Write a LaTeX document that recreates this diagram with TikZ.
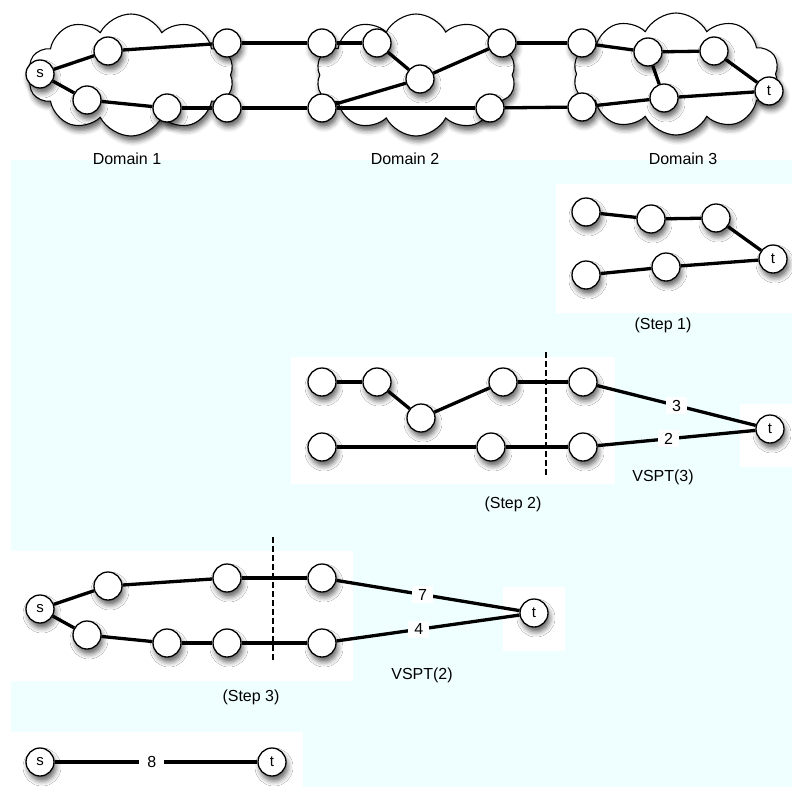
\documentclass[tikz,border=0pt]{standalone}
\usepackage{fontspec}
\setmainfont{Liberation Sans}
\usepackage{tikz}
\usetikzlibrary{shapes.symbols}
\usetikzlibrary{shadows.blur}
\definecolor{stepbg}{RGB}{239,254,255}
\tikzstyle{vtx_shadow}=[blur shadow={shadow xshift=2pt, shadow yshift=-5pt, shadow blur radius=5pt, shadow opacity=60}]
\tikzstyle{vtx}=[circle, draw=black, line width=1.3pt, fill=white, minimum size=28pt, inner sep=0pt, font=\fontsize{15}{15}\selectfont, vtx_shadow]
\tikzstyle{domcloud}=[cloud, cloud puffs=10, cloud puff arc=125, draw=black, line width=1.1pt, fill=white, minimum width=206pt, minimum height=122pt, vtx_shadow]
\tikzstyle{link}=[line width=3.3pt]
\tikzstyle{cost}=[fill=white, inner xsep=6pt, inner ysep=3pt, font=\fontsize{16}{16}\selectfont]
\tikzstyle{caption}=[font=\fontsize{16}{16}\selectfont]
\tikzstyle{cutline}=[line width=1.1pt, dash pattern=on 6pt off 3pt]

\begin{document}
\begin{tikzpicture}[x=1pt, y=-1pt]
\useasboundingbox (0,0) rectangle (792,787);
\fill[stepbg] (11,160) rectangle (792,787);
\fill[white] (556,184) rectangle (792,313);
\fill[white] (291,357) rectangle (615,484);
\fill[white] (740,404) rectangle (792,467);
\fill[white] (11,551) rectangle (353,681);
\fill[white] (503,587) rectangle (565,651);
\fill[white] (11,732) rectangle (303,787);
% domains
\node[domcloud] (dom1) at (131,75){};
\node[domcloud, minimum width=200pt] (dom2) at (416,75){};
\node[domcloud] (dom3) at (676,74){};
\node[caption] (lab1) at (127,159){Domain 1};
\node[caption] (lab2) at (405,159){Domain 2};
\node[caption] (lab3) at (683,159){Domain 3};
\node[vtx] (top0) at (40,74){s};
\node[vtx] (top1) at (108,51){};
\node[vtx] (top2) at (87,100){};
\node[vtx] (top3) at (167,108){};
\node[vtx] (top4) at (227,43){};
\node[vtx] (top5) at (227,108){};
\node[vtx] (top6) at (322,43){};
\node[vtx] (top7) at (377,43){};
\node[vtx] (top8) at (420,79){};
\node[vtx] (top9) at (502,43){};
\node[vtx] (top10) at (322,108){};
\node[vtx] (top11) at (490,108){};
\node[vtx] (top12) at (582,43){};
\node[vtx] (top13) at (648,52){};
\node[vtx] (top14) at (714,51){};
\node[vtx] (top15) at (664,98){};
\node[vtx] (top16) at (582,107){};
\node[vtx] (top17) at (769,91){t};
\draw[link](top0) -- (top1);
\draw[link](top1) -- (top4);
\draw[link](top0) -- (top2);
\draw[link](top2) -- (top3);
\draw[link](top3) -- (top5);
\draw[link](top4) -- (top6);
\draw[link](top5) -- (top10);
\draw[link](top6) -- (top7);
\draw[link](top7) -- (top8);
\draw[link](top8) -- (top9);
\draw[link](top10) -- (top8);
\draw[link](top10) -- (top11);
\draw[link](top9) -- (top12);
\draw[link](top11) -- (top16);
\draw[link](top12) -- (top13);
\draw[link](top13) -- (top14);
\draw[link](top14) -- (top17);
\draw[link](top13) -- (top15);
\draw[link](top16) -- (top15);
\draw[link](top15) -- (top17);
% step 1
\node[vtx] (st1n0) at (586,212){};
\node[vtx] (st1n1) at (651,219){};
\node[vtx] (st1n2) at (716,218){};
\node[vtx] (st1n3) at (586,275){};
\node[vtx] (st1n4) at (666,267){};
\node[vtx] (st1n5) at (773,259){t};
\draw[link](st1n0) -- (st1n1);
\draw[link](st1n1) -- (st1n2);
\draw[link](st1n2) -- (st1n5);
\draw[link](st1n3) -- (st1n4);
\draw[link](st1n4) -- (st1n5);
\node[caption] (lab4) at (663,325){(Step 1)};
% step 2
\node[vtx] (st2n0) at (322,382){};
\node[vtx] (st2n1) at (377,382){};
\node[vtx] (st2n2) at (421,418){};
\node[vtx] (st2n3) at (503,382){};
\node[vtx] (st2n4) at (583,382){};
\node[vtx] (st2n5) at (322,447){};
\node[vtx] (st2n6) at (491,447){};
\node[vtx] (st2n7) at (583,447){};
\node[vtx] (st2n8) at (770,429){t};
\coordinate (cut2a) at (546,352);
\coordinate (cut2b) at (546,477);
\draw[cutline](cut2a) -- (cut2b);
\draw[link](st2n0) -- (st2n1);
\draw[link](st2n1) -- (st2n2);
\draw[link](st2n2) -- (st2n3);
\draw[link](st2n3) -- (st2n4);
\draw[link](st2n5) -- (st2n6);
\draw[link](st2n6) -- (st2n7);
\draw[link](st2n4) -- node[cost, pos=0.5]{3} (st2n8);
\draw[link](st2n7) -- node[cost, pos=0.45]{2} (st2n8);
\node[caption] (lab5) at (663,477){VSPT(3)};
\node[caption] (lab6) at (513,504){(Step 2)};
% step 3
\node[vtx] (st3n0) at (40,609){s};
\node[vtx] (st3n1) at (108,586){};
\node[vtx] (st3n2) at (227,578){};
\node[vtx] (st3n3) at (322,578){};
\node[vtx] (st3n4) at (87,635){};
\node[vtx] (st3n5) at (167,643){};
\node[vtx] (st3n6) at (227,643){};
\node[vtx] (st3n7) at (322,643){};
\node[vtx] (st3n8) at (534,613){t};
\coordinate (cut3a) at (273,537);
\coordinate (cut3b) at (273,662);
\draw[cutline](cut3a) -- (cut3b);
\draw[link](st3n0) -- (st3n1);
\draw[link](st3n1) -- (st3n2);
\draw[link](st3n2) -- (st3n3);
\draw[link](st3n0) -- (st3n4);
\draw[link](st3n4) -- (st3n5);
\draw[link](st3n5) -- (st3n6);
\draw[link](st3n6) -- (st3n7);
\draw[link](st3n3) -- node[cost, pos=0.47]{7} (st3n8);
\draw[link](st3n7) -- node[cost, pos=0.45]{4} (st3n8);
\node[caption] (lab7) at (422,675){VSPT(2)};
\node[caption] (lab8) at (251,697){(Step 3)};
% result
\node[vtx] (st4n0) at (40,762){s};
\node[vtx] (st4n1) at (272,762){t};
\draw[link](st4n0) -- node[cost, pos=0.48, inner xsep=8pt]{8} (st4n1);
\end{tikzpicture}
\end{document}
